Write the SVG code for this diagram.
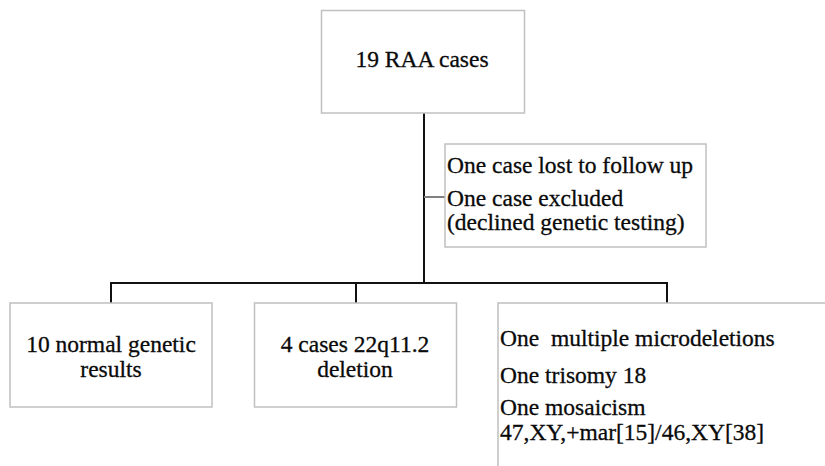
<svg xmlns="http://www.w3.org/2000/svg" width="825" height="466" viewBox="0 0 825 466">
<style>
.box{fill:#fff;stroke:#c0c0c0;stroke-width:1.5}
.t{font-family:'Liberation Serif','Times New Roman',serif;font-size:23.5px;fill:#0a0a0a;stroke:#0a0a0a;stroke-width:0.3}
.c{text-anchor:middle}
.ln{stroke:#111;stroke-width:2;fill:none}
.ln2{stroke:#808080;stroke-width:2;fill:none}
</style>
<rect width="825" height="466" fill="#fff"/>
<g id="connectors">
<path class="ln" d="M424,113 V283"/>
<path class="ln" d="M111,303 V283 H667 V303"/>
<path class="ln" d="M356,283 V303"/>
<path class="ln2" d="M424,197 H445"/>
</g>
<g id="root">
<rect class="box" x="321.5" y="10.5" width="203" height="102.5"/>
<text class="t c" x="422" y="67">19 RAA cases</text>
</g>
<g id="excluded">
<rect class="box" x="445" y="144" width="261" height="103"/>
<text class="t" x="447" y="173">One case lost to follow up</text>
<text class="t" x="447" y="205.5">One case excluded</text>
<text class="t" x="447" y="230">(declined genetic testing)</text>
</g>
<g id="normal">
<rect class="box" x="10" y="303" width="202" height="104"/>
<text class="t c" x="111" y="352">10 normal genetic</text>
<text class="t c" x="111" y="376.5">results</text>
</g>
<g id="deletion">
<rect class="box" x="254.5" y="303" width="202" height="104"/>
<text class="t c" x="355" y="352">4 cases 22q11.2</text>
<text class="t c" x="355" y="376.5">deletion</text>
</g>
<g id="other">
<rect class="box" x="498" y="303" width="340" height="180"/>
<text class="t" x="500" y="346" xml:space="preserve">One  multiple microdeletions</text>
<text class="t" x="500" y="383">One trisomy 18</text>
<text class="t" x="500" y="414.5">One mosaicism</text>
<text class="t" x="500" y="440">47,XY,+mar[15]/46,XY[38]</text>
</g>
</svg>
